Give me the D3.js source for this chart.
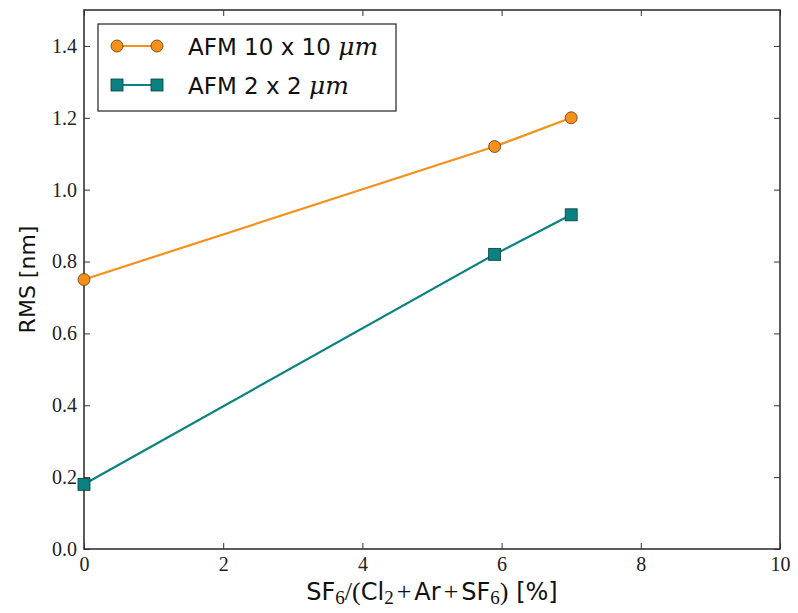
<!DOCTYPE html>
<html>
<head>
<meta charset="utf-8">
<script src="https://cdn.jsdelivr.net/npm/d3@7"></script>
<style>
  body { margin: 0; background: #fff; }
  .tick text { font-family: "Liberation Serif", "DejaVu Serif", serif; font-size: 20px; fill: #222; }
</style>
</head>
<body>
<div id="chart"></div>
<script>
// data
const xs = [0, 5.9, 7.0]
const rms10 = [0.75, 1.12, 1.20]
const rms2 = [0.18, 0.82, 0.93]
const xTicks = [0, 2, 4, 6, 8, 10]
const yTicks = [0.0, 0.2, 0.4, 0.6, 0.8, 1.0, 1.2, 1.4]
const seriesNames = ['AFM 10 x 10 ', 'AFM 2 x 2 ']

const width = 798, height = 613
const margin = {top: 10, right: 18, bottom: 64, left: 84}
const w = width - margin.left - margin.right
const h = height - margin.top - margin.bottom

const orange = '#f5901a', teal = '#0a8282'
const axisColor = '#333'
let sans = '"DejaVu Sans", sans-serif'
let serif = '"Liberation Serif", "DejaVu Serif", serif'

let svg = d3.select('#chart').append('svg')
  .attr('width', width)
  .attr('height', height)

let g = svg.append('g').attr('transform', 'translate(' + margin.left + ',' + margin.top + ')')

let x = d3.scaleLinear().domain([0, 10]).range([0, w])
let y = d3.scaleLinear().domain([0, 1.5]).range([h, 0])

// axes, ticks pointing inward on all four sides
let fmtY = d3.format('.1f')
g.append('g').attr('transform', 'translate(0,' + h + ')')
  .call(d3.axisBottom(x).tickValues(xTicks).tickSize(-6).tickPadding(8).tickFormat(d3.format('d')))
g.append('g')
  .call(d3.axisLeft(y).tickValues(yTicks).tickSize(-6).tickPadding(7).tickFormat(fmtY))
g.append('g')
  .call(d3.axisTop(x).tickValues(xTicks).tickSize(-6).tickFormat(''))
g.append('g').attr('transform', 'translate(' + w + ',0)')
  .call(d3.axisRight(y).tickValues(yTicks).tickSize(-6).tickFormat(''))

g.selectAll('.domain').remove()
g.selectAll('.tick line').attr('stroke', axisColor).attr('stroke-width', 1)

g.append('rect')
  .attr('width', w).attr('height', h)
  .attr('fill', 'none')
  .attr('stroke', axisColor)
  .attr('stroke-width', 1.6)

let line = d3.line().x((d, i) => x(xs[i])).y(d => y(d))

// series 1 : circles
g.append('path').datum(rms10)
  .attr('d', line).attr('fill', 'none')
  .attr('stroke', orange).attr('stroke-width', 2.2)
g.selectAll('.c10').data(rms10).join('circle')
  .attr('class', 'c10')
  .attr('cx', (d, i) => x(xs[i])).attr('cy', d => y(d))
  .attr('r', 6)
  .attr('fill', orange).attr('stroke', '#5a3a10').attr('stroke-width', 0.8)

// series 2 : squares
g.append('path').datum(rms2)
  .attr('d', line).attr('fill', 'none')
  .attr('stroke', teal).attr('stroke-width', 2.2)
g.selectAll('.s2').data(rms2).join('rect')
  .attr('class', 's2')
  .attr('x', (d, i) => x(xs[i]) - 6).attr('y', d => y(d) - 6)
  .attr('width', 12).attr('height', 12)
  .attr('fill', teal).attr('stroke', '#0a3a3a').attr('stroke-width', 0.8)

// legend
let leg = svg.append('g').attr('transform', 'translate(98,24)')
leg.append('rect')
  .attr('width', 298).attr('height', 87)
  .attr('fill', '#fff').attr('stroke', '#222').attr('stroke-width', 1.2)

let rows = [
  {name: seriesNames[0], color: orange, shape: 'circle', y: 22},
  {name: seriesNames[1], color: teal, shape: 'square', y: 61}
]
rows.forEach(r => {
  let row = leg.append('g').attr('transform', 'translate(0,' + r.y + ')')
  row.append('line').attr('x1', 19).attr('x2', 59)
    .attr('stroke', r.color).attr('stroke-width', 2.2)
  ;[19, 59].forEach(cx => {
    if (r.shape === 'circle') {
      row.append('circle').attr('cx', cx).attr('r', 6)
        .attr('fill', r.color).attr('stroke', '#5a3a10').attr('stroke-width', 0.8)
    } else {
      row.append('rect').attr('x', cx - 6).attr('y', -6).attr('width', 12).attr('height', 12)
        .attr('fill', r.color).attr('stroke', '#0a3a3a').attr('stroke-width', 0.8)
    }
  })
  let t = row.append('text').attr('x', 90).attr('y', 9)
    .attr('font-family', sans).attr('font-size', 23).attr('fill', '#111')
  t.append('tspan').text(r.name)
  t.append('tspan').attr('font-family', '"DejaVu Serif", serif').attr('font-style', 'italic')
    .attr('font-size', 25).text('μm')
})

// axis titles
svg.append('text')
  .attr('transform', 'translate(35,' + (margin.top + h / 2) + ') rotate(-90)')
  .attr('text-anchor', 'middle')
  .attr('font-family', sans).attr('font-size', 22).attr('fill', '#111')
  .text('RMS [nm]')

let xl = svg.append('text')
  .attr('x', margin.left + w / 2).attr('y', 600)
  .attr('text-anchor', 'middle')
  .attr('font-family', sans).attr('font-size', 24).attr('fill', '#111')
let parts = [
  ['SF', sans, 0], ['6', serif, 1], ['/(', serif, 0], ['Cl', sans, 0], ['2', serif, 1],
  ['+', serif, 0], ['Ar', sans, 0], ['+', serif, 0], ['SF', sans, 0], ['6', serif, 1],
  [')', serif, 0], [' [%]', sans, 0]
]
parts.forEach((p, i) => {
  let ts = xl.append('tspan').attr('font-family', p[1]).text(p[0])
  if (p[1] === serif) ts.attr('font-size', p[2] ? 19 : 26)
  let dx = 0
  if (p[0] === '+') dx += 3
  if (i > 0 && parts[i - 1][0] === '+') dx += 3
  if (dx) ts.attr('dx', dx)
  if (p[2]) ts.attr('dy', 4)
  else if (i > 0 && parts[i - 1][2]) ts.attr('dy', -4)
})
</script>
</body>
</html>
